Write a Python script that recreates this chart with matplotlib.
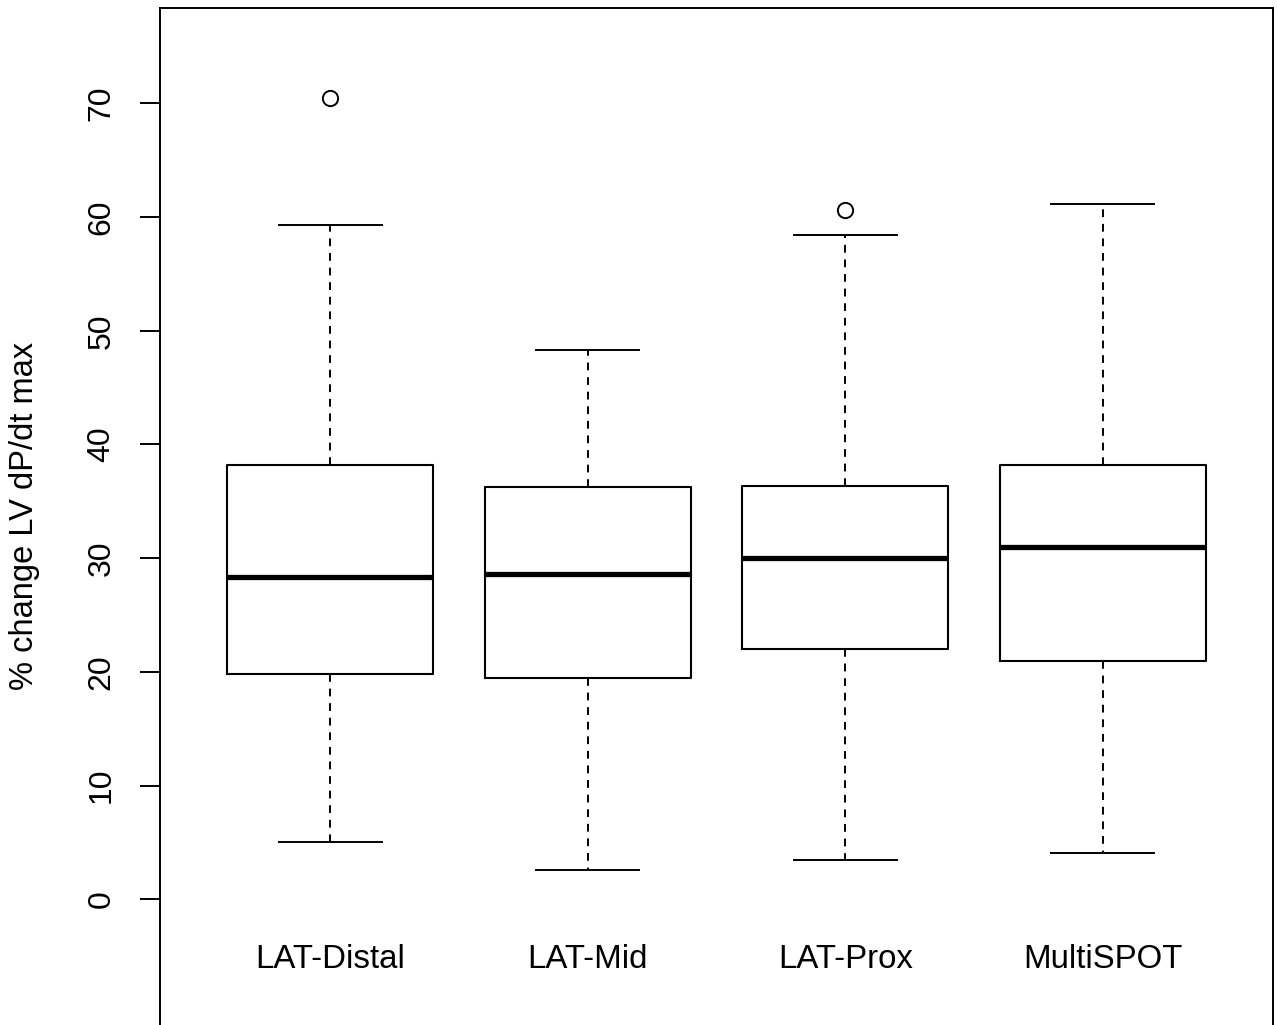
import matplotlib
matplotlib.use("Agg")
import matplotlib.pyplot as plt

plt.rcParams['font.family'] = ['Liberation Sans', 'DejaVu Sans']

categories = ["LAT-Distal", "LAT-Mid", "LAT-Prox", "MultiSPOT"]
whisker_low = [5.0, 2.55, 3.43, 4.04]
q1 = [19.85, 19.5, 22.04, 20.99]
median = [28.37, 28.63, 30.04, 31.0]
q3 = [38.2, 36.27, 36.36, 38.2]
whisker_high = [59.28, 48.3, 58.4, 61.2]
outliers = [[70.44], [], [60.6], []]
yticks = [0, 10, 20, 30, 40, 50, 60, 70]

W, H = 1277, 1025
fig = plt.figure(figsize=(W / 100, H / 100), dpi=100)
ylo, yhi = -13.4, 78.4
top_px, bottom_px = 8, 1051.5
ax = fig.add_axes([160 / W, (H - bottom_px) / H, (1273 - 160) / W, (bottom_px - top_px) / H])

stats = []
for i, c in enumerate(categories):
    stats.append(dict(label=c, whislo=whisker_low[i], q1=q1[i], med=median[i],
                      q3=q3[i], whishi=whisker_high[i], fliers=outliers[i]))

positions = list(range(1, len(categories) + 1))
ax.bxp(stats, positions=positions, widths=0.8, capwidths=0.4, showfliers=True,
       boxprops=dict(color='black', linewidth=1.5),
       medianprops=dict(color='black', linewidth=3.8, solid_capstyle='butt'),
       whiskerprops=dict(color='black', linewidth=1.4, linestyle=(0, (4, 3.5))),
       capprops=dict(color='black', linewidth=1.4),
       flierprops=dict(marker='o', markerfacecolor='none', markeredgecolor='black',
                       markersize=11, markeredgewidth=1.4))

ax.set_xlim(0.34, 4.66)
ax.set_ylim(ylo, yhi)
ax.set_xticks([])
ax.set_yticks(yticks)
ax.set_yticklabels([str(t) for t in yticks], rotation=90, va='center', fontsize=23)
ax.tick_params(axis='y', length=14.4, width=1.4, pad=17)
for s in ['left', 'top', 'right', 'bottom']:
    ax.spines[s].set_linewidth(1.4)

for p, c in zip(positions, categories):
    ax.text(p, -5.3, c, ha='center', va='center', fontsize=23.8)

fig.text(25 / W, 1 - 516 / H, "% change LV dP/dt max", rotation=90,
         ha='center', va='center', fontsize=23.5)

fig.savefig("out.png", dpi=100)
